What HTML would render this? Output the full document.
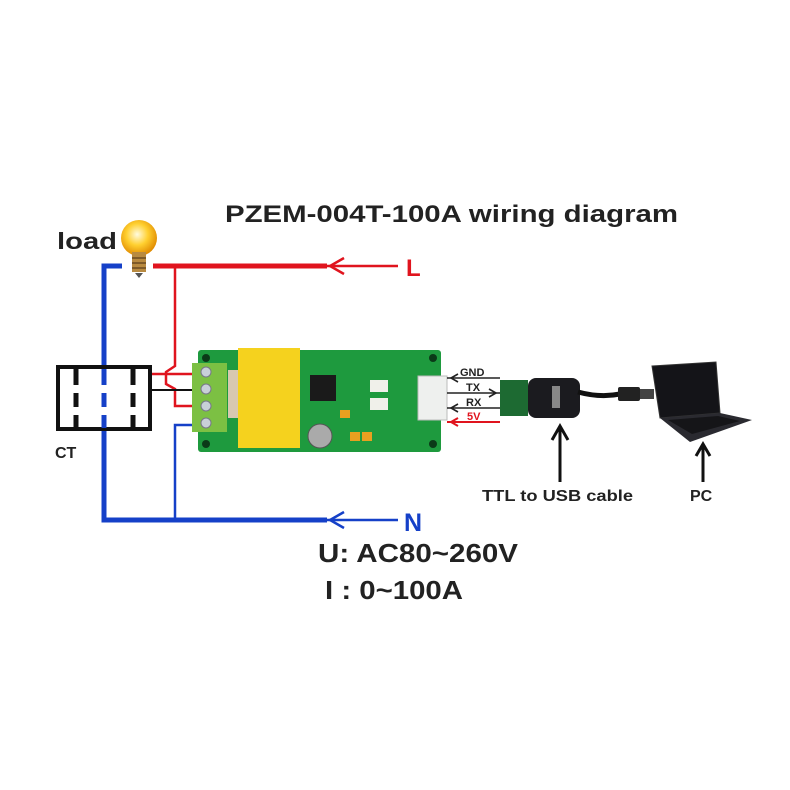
<!DOCTYPE html>
<html><head><meta charset="utf-8"><style>
html,body{margin:0;padding:0;background:#fff;}
svg{display:block;}
text{font-family:"Liberation Sans","DejaVu Sans",sans-serif;font-weight:bold;}
</style></head><body>
<svg width="790" height="790" viewBox="0 0 790 790" xmlns="http://www.w3.org/2000/svg">
<defs>
<radialGradient id="bulb" cx="0.45" cy="0.4" r="0.6">
<stop offset="0" stop-color="#fffbe0"/><stop offset="0.5" stop-color="#ffd030"/><stop offset="1" stop-color="#e08a00"/>
</radialGradient>
</defs>
<text x="225" y="222" font-size="24" fill="#222" textLength="453" lengthAdjust="spacingAndGlyphs">PZEM-004T-100A wiring diagram</text>
<text x="57" y="249" font-size="23" fill="#222" textLength="60" lengthAdjust="spacingAndGlyphs">load</text>
<circle cx="139" cy="238" r="18" fill="url(#bulb)"/>
<rect x="132" y="252" width="14" height="20" fill="#b88a40"/>
<line x1="132" y1="258" x2="146" y2="258" stroke="#6a4a20" stroke-width="1.5"/>
<line x1="132" y1="263" x2="146" y2="263" stroke="#6a4a20" stroke-width="1.5"/>
<line x1="132" y1="268" x2="146" y2="268" stroke="#6a4a20" stroke-width="1.5"/>
<path d="M135 273 L143 273 L139 278 Z" fill="#555"/>
<g stroke="#e0141e" fill="none">
<line x1="153" y1="266" x2="327" y2="266" stroke-width="5"/>
<line x1="327" y1="266" x2="398" y2="266" stroke-width="2.5"/>
<polyline points="344,258 330,266 344,274" stroke-width="2.5"/>
<polyline points="175,266 175,366 166,372 166,384 175,389 175,406 200,406" stroke-width="2.5"/>
<line x1="151" y1="374" x2="200" y2="374" stroke-width="2.5"/>
<line x1="447" y1="422" x2="500" y2="422" stroke-width="2"/>
<polyline points="458,418 451,422 458,426" stroke-width="2"/>
</g>
<text x="406" y="276" font-size="24" fill="#e0141e">L</text>
<g stroke="#1540c8" fill="none">
<polyline points="122,266 104,266 104,520 327,520" stroke-width="5"/>
<line x1="327" y1="520" x2="398" y2="520" stroke-width="2.5"/>
<polyline points="344,512 330,520 344,528" stroke-width="2.5"/>
<polyline points="175,520 175,425 200,425" stroke-width="2.5"/>
</g>
<text x="404" y="531" font-size="25" fill="#1540c8">N</text>
<rect x="58" y="367" width="92" height="62" fill="#fff" stroke="#111" stroke-width="4"/>
<g stroke="#111" stroke-width="5">
<line x1="76" y1="369" x2="76" y2="385"/><line x1="76" y1="393" x2="76" y2="407"/><line x1="76" y1="415" x2="76" y2="428"/>
<line x1="133" y1="369" x2="133" y2="385"/><line x1="133" y1="393" x2="133" y2="407"/><line x1="133" y1="415" x2="133" y2="428"/>
</g>
<g stroke="#1540c8" stroke-width="5">
<line x1="104" y1="369" x2="104" y2="385"/><line x1="104" y1="393" x2="104" y2="407"/><line x1="104" y1="415" x2="104" y2="428"/>
</g>
<line x1="151" y1="390" x2="200" y2="390" stroke="#111" stroke-width="2"/>
<text x="55" y="458" font-size="16" fill="#222">CT</text>
<rect x="198" y="350" width="243" height="102" rx="3" fill="#1e9a3e"/>
<circle cx="206" cy="358" r="4" fill="#0b3a18"/><circle cx="433" cy="358" r="4" fill="#0b3a18"/>
<circle cx="206" cy="444" r="4" fill="#0b3a18"/><circle cx="433" cy="444" r="4" fill="#0b3a18"/>
<rect x="192" y="363" width="35" height="69" fill="#7cc043"/>
<g fill="#c8d0d8" stroke="#778" stroke-width="1">
<circle cx="206" cy="372" r="5"/><circle cx="206" cy="389" r="5"/><circle cx="206" cy="406" r="5"/><circle cx="206" cy="423" r="5"/>
</g>
<rect x="228" y="370" width="10" height="48" fill="#d8c8b0"/>
<rect x="238" y="348" width="62" height="100" fill="#f5d21e"/>
<rect x="310" y="375" width="26" height="26" fill="#1a1a1a"/>
<circle cx="320" cy="436" r="12" fill="#aaa" stroke="#555"/>
<rect x="370" y="380" width="18" height="12" fill="#f0f0ea"/>
<rect x="370" y="398" width="18" height="12" fill="#f0f0ea"/>
<rect x="340" y="410" width="10" height="8" fill="#e8a020"/>
<rect x="350" y="432" width="10" height="9" fill="#e8a020"/><rect x="362" y="432" width="10" height="9" fill="#e8a020"/>
<rect x="418" y="376" width="29" height="44" fill="#eef0ee" stroke="#bbb"/>
<g stroke="#222" stroke-width="1.6" fill="none">
<line x1="447" y1="378" x2="500" y2="378"/><polyline points="458,374 451,378 458,382"/>
<line x1="447" y1="393" x2="500" y2="393"/><polyline points="489,389 496,393 489,397"/>
<line x1="447" y1="408" x2="500" y2="408"/><polyline points="458,404 451,408 458,412"/>
</g>
<g font-size="11" fill="#222">
<text x="460" y="376">GND</text><text x="466" y="391">TX</text><text x="466" y="406">RX</text>
</g>
<text x="467" y="420" font-size="11" fill="#e0141e">5V</text>
<rect x="500" y="380" width="28" height="36" fill="#1d6a32"/>
<rect x="528" y="378" width="52" height="40" rx="8" fill="#1b1b1f"/>
<rect x="552" y="386" width="8" height="22" fill="#888"/>
<path d="M578 392 Q600 398 620 394" stroke="#111" stroke-width="5" fill="none"/>
<rect x="618" y="387" width="22" height="14" rx="2" fill="#222"/>
<rect x="640" y="389" width="14" height="10" fill="#444"/>
<polygon points="652,366 716,362 720,413 660,418" fill="#141418" stroke="#333"/>
<polygon points="660,418 720,413 752,420 690,442" fill="#2a2a30"/>
<polygon points="668,420 718,416 740,421 692,434" fill="#151518"/>
<g stroke="#111" stroke-width="3" fill="none">
<line x1="560" y1="482" x2="560" y2="428"/><polyline points="552,440 560,426 568,440"/>
<line x1="703" y1="482" x2="703" y2="446"/><polyline points="696,456 703,444 710,456"/>
</g>
<text x="482" y="501" font-size="16" fill="#222" textLength="151" lengthAdjust="spacingAndGlyphs">TTL to USB cable</text>
<text x="690" y="501" font-size="16" fill="#222">PC</text>
<text x="318" y="562" font-size="26" fill="#222" textLength="200" lengthAdjust="spacingAndGlyphs">U: AC80~260V</text>
<text x="325" y="599" font-size="26" fill="#222" textLength="138" lengthAdjust="spacingAndGlyphs">I : 0~100A</text>
</svg>
</body></html>
